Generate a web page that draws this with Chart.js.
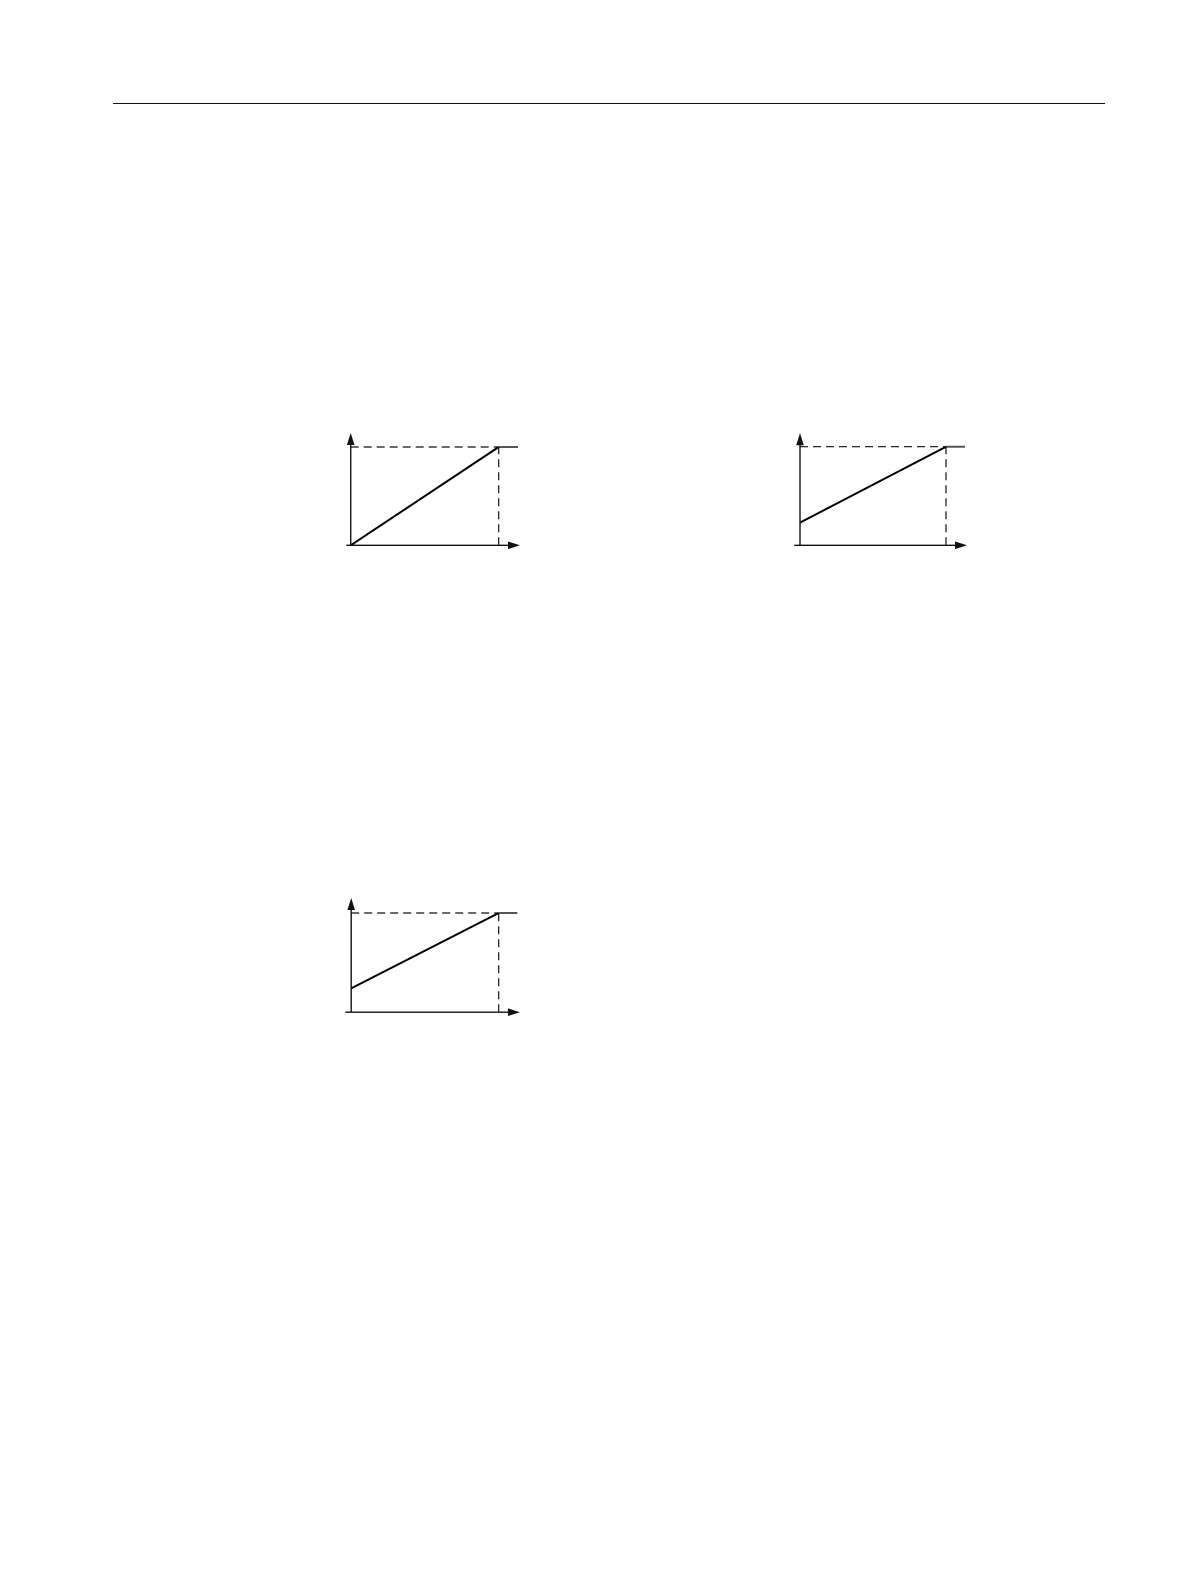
<!DOCTYPE html>
<html><head><meta charset="utf-8">
<script src="https://cdn.jsdelivr.net/npm/chart.js@4"></script>
<style>
html,body{margin:0;padding:0;background:#fff;}
body{width:1191px;height:1587px;position:relative;overflow:hidden;}
.rule{position:absolute;left:113px;top:102.5px;width:992px;height:1.3px;background:#111;}
.box{position:absolute;width:220px;height:150px;}
.box canvas{display:block;}
</style></head><body>
<div class="rule"></div>
<div class="box" id="b0"><canvas id="c0" width="220" height="150"></canvas></div>
<div class="box" id="b1"><canvas id="c1" width="220" height="150"></canvas></div>
<div class="box" id="b2"><canvas id="c2" width="220" height="150"></canvas></div>
<script>
// ---- data (normalised units: x = 1 at the break point, y = 1 at saturation) ----
const rampStartY   = [0, 0.23, 0.24];      // value at x = 0 for each panel
const breakX       = [1, 1, 1];            // x where the ramp reaches saturation
const saturationY  = [1, 1, 1];            // saturation level
const plateauEndX  = [1.13, 1.13, 1.126];  // end of the flat segment
const xAxisStartX  = [-0.03, -0.04, -0.04];
const xAxisTipX    = [1.144, 1.144, 1.144];
const yAxisTipY    = [1.142, 1.136, 1.151];

// ---- layout (pixel frames of each panel) ----
const frames = [
  {left:320, top:410, ox:350.7, oy:545.3, ux:148,   uy:98.3},
  {left:765, top:410, ox:800.0, oy:545.3, ux:146,   uy:98.6},
  {left:320, top:872, ox:351.2, oy:1012.2, ux:147.5, uy:99.2}
];
const W = 220, H = 150;

const arrowPlugin = {
  id: 'axisArrows',
  afterDatasetsDraw(chart, args, opts) {
    const ctx = chart.ctx, xs = chart.scales.x, ys = chart.scales.y;
    const L = 12, hw = 3.8;
    ctx.save();
    ctx.fillStyle = '#111';
    (opts.arrows || []).forEach(a => {
      const tx = xs.getPixelForValue(a.x), ty = ys.getPixelForValue(a.y);
      ctx.beginPath();
      if (a.dir === 'right') {
        ctx.moveTo(tx, ty); ctx.lineTo(tx - L, ty - hw); ctx.lineTo(tx - L, ty + hw);
      } else {
        ctx.moveTo(tx, ty); ctx.lineTo(tx - hw, ty + L); ctx.lineTo(tx + hw, ty + L);
      }
      ctx.closePath(); ctx.fill();
    });
    ctx.restore();
  }
};

frames.forEach((f, i) => {
  const box = document.getElementById('b' + i);
  box.style.left = f.left + 'px';
  box.style.top = f.top + 'px';
  const xmin = -(f.ox - f.left) / f.ux, xmax = xmin + W / f.ux;
  const ymin = -((f.top + H) - f.oy) / f.uy, ymax = ymin + H / f.uy;

  const seg = (pts, color, width, dash) => ({
    data: pts, borderColor: color, borderWidth: width, borderDash: dash || [],
    pointRadius: 0, fill: false, tension: 0, borderCapStyle: 'butt'
  });

  new Chart(document.getElementById('c' + i), {
    type: 'line',
    data: {
      datasets: [
        seg([{x: xAxisStartX[i], y: 0}, {x: xAxisTipX[i] - 0.05, y: 0}], '#111', 1.4),
        seg([{x: 0, y: 0}, {x: 0, y: yAxisTipY[i] - 0.08}], '#111', 1.4),
        seg([{x: 0, y: saturationY[i]}, {x: breakX[i], y: saturationY[i]}], '#111', 1.2, [8, 5]),
        seg([{x: breakX[i], y: 0}, {x: breakX[i], y: saturationY[i]}], '#111', 1.2, [8, 5]),
        seg([{x: 0, y: rampStartY[i]}, {x: breakX[i], y: saturationY[i]}], '#000', 2),
        seg([{x: breakX[i], y: saturationY[i]}, {x: plateauEndX[i], y: saturationY[i]}], '#555', 2)
      ]
    },
    options: {
      responsive: false, animation: false, devicePixelRatio: 2,
      layout: {padding: 0},
      plugins: {
        legend: {display: false}, tooltip: {enabled: false},
        axisArrows: {arrows: [
          {x: xAxisTipX[i], y: 0, dir: 'right'},
          {x: 0, y: yAxisTipY[i], dir: 'up'}
        ]}
      },
      scales: {
        x: {type: 'linear', display: false, min: xmin, max: xmax, bounds: 'data'},
        y: {type: 'linear', display: false, min: ymin, max: ymax, bounds: 'data'}
      }
    },
    plugins: [arrowPlugin]
  });
});
</script>
</body></html>
